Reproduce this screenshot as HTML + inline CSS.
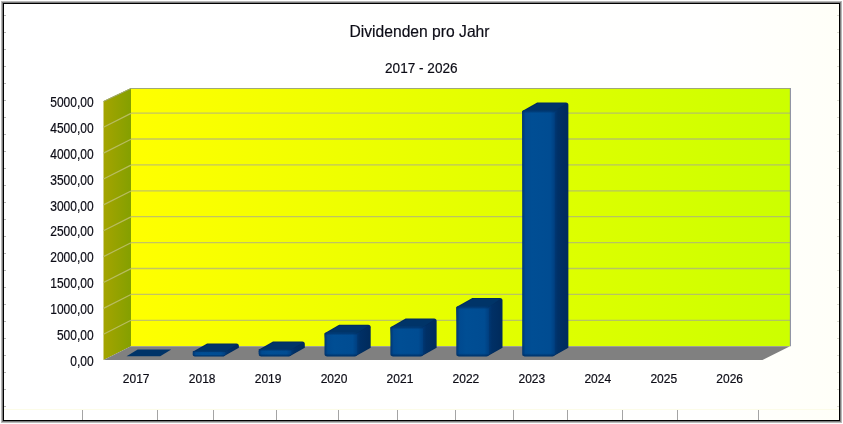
<!DOCTYPE html>
<html><head><meta charset="utf-8"><title>Dividenden pro Jahr</title>
<style>
html,body{margin:0;padding:0;background:#fff;}
body{width:843px;height:424px;overflow:hidden;font-family:"Liberation Sans",sans-serif;}
svg{display:block;}
text{font-family:"Liberation Sans",sans-serif;fill:#0c0c16;stroke:#0c0c16;stroke-width:0.18px;}
</style></head><body>
<svg width="843" height="424" viewBox="0 0 843 424">
<defs>
<linearGradient id="bg" x1="0" y1="0" x2="1" y2="0"><stop offset="0" stop-color="#ffffff"/><stop offset="0.85" stop-color="#fffffe"/><stop offset="1" stop-color="#fffff8"/></linearGradient>
<linearGradient id="wall" gradientUnits="userSpaceOnUse" x1="131.0" y1="0" x2="790.0" y2="0"><stop offset="0" stop-color="#ffff00"/><stop offset="1" stop-color="#ccff00"/></linearGradient>
<linearGradient id="side" gradientUnits="userSpaceOnUse" x1="103.5" y1="0" x2="131.0" y2="0"><stop offset="0" stop-color="#a4a400"/><stop offset="1" stop-color="#84a000"/></linearGradient>
<linearGradient id="front" x1="0" y1="0" x2="1" y2="0"><stop offset="0" stop-color="#003570"/><stop offset="0.1" stop-color="#004a90"/><stop offset="0.3" stop-color="#004e94"/><stop offset="0.86" stop-color="#004c92"/><stop offset="1" stop-color="#003f80"/></linearGradient>
<linearGradient id="bevT" x1="0" y1="0" x2="0" y2="1"><stop offset="0" stop-color="#002c5e" stop-opacity="0.9"/><stop offset="1" stop-color="#002c5e" stop-opacity="0"/></linearGradient>
<linearGradient id="bevB" x1="0" y1="0" x2="0" y2="1"><stop offset="0" stop-color="#002c5e" stop-opacity="0"/><stop offset="1" stop-color="#002c5e" stop-opacity="0.8"/></linearGradient>
<linearGradient id="sidef" x1="0" y1="0" x2="1" y2="0"><stop offset="0" stop-color="#003a78"/><stop offset="0.3" stop-color="#003066"/><stop offset="1" stop-color="#002b5c"/></linearGradient>
</defs>
<rect x="0" y="0" width="843" height="424" fill="#ffffff"/>
<rect x="1" y="1" width="841" height="422" fill="#b8b8b8"/>
<rect x="2" y="2" width="839" height="420" fill="#7c7c7c"/>
<rect x="3" y="3" width="837" height="418" fill="#000000"/>
<rect x="4" y="4" width="835" height="416" fill="url(#bg)"/>

<g stroke="#a4a4a4" stroke-width="1">
<line x1="82.5" y1="410" x2="82.5" y2="420"/>
<line x1="157.5" y1="410" x2="157.5" y2="420"/>
<line x1="213.5" y1="410" x2="213.5" y2="420"/>
<line x1="276.5" y1="410" x2="276.5" y2="420"/>
<line x1="338.5" y1="410" x2="338.5" y2="420"/>
<line x1="397.5" y1="410" x2="397.5" y2="420"/>
<line x1="455.5" y1="410" x2="455.5" y2="420"/>
<line x1="513.5" y1="410" x2="513.5" y2="420"/>
<line x1="567.5" y1="410" x2="567.5" y2="420"/>
<line x1="622.5" y1="410" x2="622.5" y2="420"/>
<line x1="677.5" y1="410" x2="677.5" y2="420"/>
<line x1="758.5" y1="410" x2="758.5" y2="420"/>
</g>
<line x1="4" y1="409.5" x2="839" y2="409.5" stroke="#fcfce8" stroke-width="1"/>
<g fill="#b8b8b8">
<rect x="4" y="15" width="2" height="1"/>
<rect x="837" y="15" width="2" height="1" fill="#dcdcd0"/>
<rect x="4" y="32" width="2" height="1"/>
<rect x="837" y="32" width="2" height="1" fill="#dcdcd0"/>
<rect x="4" y="49" width="2" height="1"/>
<rect x="837" y="49" width="2" height="1" fill="#dcdcd0"/>
<rect x="4" y="66" width="2" height="1"/>
<rect x="837" y="66" width="2" height="1" fill="#dcdcd0"/>
<rect x="4" y="83" width="2" height="1"/>
<rect x="837" y="83" width="2" height="1" fill="#dcdcd0"/>
<rect x="4" y="100" width="2" height="1"/>
<rect x="837" y="100" width="2" height="1" fill="#dcdcd0"/>
<rect x="4" y="117" width="2" height="1"/>
<rect x="837" y="117" width="2" height="1" fill="#dcdcd0"/>
<rect x="4" y="134" width="2" height="1"/>
<rect x="837" y="134" width="2" height="1" fill="#dcdcd0"/>
<rect x="4" y="151" width="2" height="1"/>
<rect x="837" y="151" width="2" height="1" fill="#dcdcd0"/>
<rect x="4" y="168" width="2" height="1"/>
<rect x="837" y="168" width="2" height="1" fill="#dcdcd0"/>
<rect x="4" y="185" width="2" height="1"/>
<rect x="837" y="185" width="2" height="1" fill="#dcdcd0"/>
<rect x="4" y="202" width="2" height="1"/>
<rect x="837" y="202" width="2" height="1" fill="#dcdcd0"/>
<rect x="4" y="219" width="2" height="1"/>
<rect x="837" y="219" width="2" height="1" fill="#dcdcd0"/>
<rect x="4" y="236" width="2" height="1"/>
<rect x="837" y="236" width="2" height="1" fill="#dcdcd0"/>
<rect x="4" y="253" width="2" height="1"/>
<rect x="837" y="253" width="2" height="1" fill="#dcdcd0"/>
<rect x="4" y="270" width="2" height="1"/>
<rect x="837" y="270" width="2" height="1" fill="#dcdcd0"/>
<rect x="4" y="287" width="2" height="1"/>
<rect x="837" y="287" width="2" height="1" fill="#dcdcd0"/>
<rect x="4" y="304" width="2" height="1"/>
<rect x="837" y="304" width="2" height="1" fill="#dcdcd0"/>
<rect x="4" y="321" width="2" height="1"/>
<rect x="837" y="321" width="2" height="1" fill="#dcdcd0"/>
<rect x="4" y="338" width="2" height="1"/>
<rect x="837" y="338" width="2" height="1" fill="#dcdcd0"/>
<rect x="4" y="355" width="2" height="1"/>
<rect x="837" y="355" width="2" height="1" fill="#dcdcd0"/>
<rect x="4" y="372" width="2" height="1"/>
<rect x="837" y="372" width="2" height="1" fill="#dcdcd0"/>
<rect x="4" y="389" width="2" height="1"/>
<rect x="837" y="389" width="2" height="1" fill="#dcdcd0"/>
<rect x="4" y="406" width="2" height="1"/>
<rect x="837" y="406" width="2" height="1" fill="#dcdcd0"/>
</g>
<text transform="translate(419.50,37.00) scale(0.979,1.03)" font-size="16" text-anchor="middle">Dividenden pro Jahr</text>
<text transform="translate(421.30,72.80) scale(0.972,1.06)" font-size="14" text-anchor="middle">2017 - 2026</text>
<rect x="131.0" y="88.0" width="659.0" height="258.20000000000005" fill="url(#wall)"/>
<polygon points="103.5,101.0 131.0,88.0 131.0,346.20000000000005 103.5,360.1" fill="url(#side)"/>
<polygon points="103.5,360.1 131.0,346.20000000000005 790.0,346.20000000000005 762.5,360.1" fill="#808080"/>
<g stroke="#a0a0a0" stroke-opacity="0.62" stroke-width="1.3" fill="none">
<line x1="131.0" y1="320.30" x2="790.0" y2="320.30"/>
<line x1="131.0" y1="294.40" x2="790.0" y2="294.40"/>
<line x1="131.0" y1="268.50" x2="790.0" y2="268.50"/>
<line x1="131.0" y1="242.60" x2="790.0" y2="242.60"/>
<line x1="131.0" y1="216.70" x2="790.0" y2="216.70"/>
<line x1="131.0" y1="190.80" x2="790.0" y2="190.80"/>
<line x1="131.0" y1="164.90" x2="790.0" y2="164.90"/>
<line x1="131.0" y1="139.00" x2="790.0" y2="139.00"/>
<line x1="131.0" y1="113.10" x2="790.0" y2="113.10"/>
</g>
<g stroke="#b8bc60" stroke-width="1.2" fill="none">
<line x1="103.5" y1="334.23" x2="131.0" y2="320.33"/>
<line x1="103.5" y1="308.36" x2="131.0" y2="294.46"/>
<line x1="103.5" y1="282.49" x2="131.0" y2="268.59"/>
<line x1="103.5" y1="256.62" x2="131.0" y2="242.72"/>
<line x1="103.5" y1="230.75" x2="131.0" y2="216.85"/>
<line x1="103.5" y1="204.88" x2="131.0" y2="190.98"/>
<line x1="103.5" y1="179.01" x2="131.0" y2="165.11"/>
<line x1="103.5" y1="153.14" x2="131.0" y2="139.24"/>
<line x1="103.5" y1="127.27" x2="131.0" y2="113.37"/>
</g>
<polyline points="103.5,101.5 131.0,88.5 790.0,88.5" fill="none" stroke="#a0a878" stroke-width="1"/>
<line x1="790.4" y1="88.0" x2="790.4" y2="346.20000000000005" stroke="#8c90a0" stroke-width="1.1"/>
<polygon points="126.5,356.2 160.2,356.2 171.3,349.5 137.7,349.5" fill="#003468"/>
<path d="M192.7,351.8 L207.1,343.5 L236.4,343.5 Q238.9,343.5 238.9,346.0 L238.9,347.8 L223.8,356.2 L194.7,356.2 Z" fill="#002c5e"/>
<path d="M224.3,352.0 L237.9,345.5 L237.9,347.4 L224.3,355.2 Z" fill="url(#sidef)"/>
<path d="M194.2,352.2 L207.6,344.5 L236.4,344.5 L224.8,352.2 Z" fill="#003468"/>
<rect x="192.7" y="351.0" width="32.6" height="5.2" rx="1.7" ry="1.7" fill="url(#front)"/>
<rect x="192.7" y="351.0" width="32.6" height="1.7" rx="1.7" fill="url(#bevT)"/>
<rect x="192.7" y="354.5" width="32.6" height="1.7" rx="1.7" fill="url(#bevB)"/>
<path d="M258.6,349.7 L273.0,341.4 L302.3,341.4 Q304.8,341.4 304.8,343.9 L304.8,347.8 L289.7,356.2 L260.6,356.2 Z" fill="#002c5e"/>
<path d="M290.2,349.9 L303.8,343.4 L303.8,347.4 L290.2,355.2 Z" fill="url(#sidef)"/>
<path d="M260.1,350.1 L273.5,342.4 L302.3,342.4 L290.7,350.1 Z" fill="#003468"/>
<rect x="258.6" y="348.9" width="32.6" height="7.3" rx="2.4" ry="2.4" fill="url(#front)"/>
<rect x="258.6" y="348.9" width="32.6" height="2.4" rx="2.4" fill="url(#bevT)"/>
<rect x="258.6" y="353.8" width="32.6" height="2.4" rx="2.4" fill="url(#bevB)"/>
<path d="M324.5,333.2 L339.1,324.8 L368.2,324.8 Q370.7,324.8 370.7,327.3 L370.7,347.8 L355.6,356.2 L326.5,356.2 Z" fill="#002c5e"/>
<path d="M356.1,333.4 L369.7,326.8 L369.7,347.4 L356.1,355.2 Z" fill="url(#sidef)"/>
<path d="M326.0,333.6 L339.6,325.8 L368.2,325.8 L356.6,333.6 Z" fill="#003468"/>
<rect x="324.5" y="332.4" width="32.6" height="23.8" rx="2.6" ry="2.6" fill="url(#front)"/>
<rect x="324.5" y="332.4" width="32.6" height="3.0" rx="2.6" fill="url(#bevT)"/>
<rect x="324.5" y="353.2" width="32.6" height="3.0" rx="2.6" fill="url(#bevB)"/>
<path d="M390.4,327.2 L405.6,318.5 L434.1,318.5 Q436.6,318.5 436.6,321.0 L436.6,347.8 L421.5,356.2 L392.4,356.2 Z" fill="#002c5e"/>
<path d="M422.0,327.4 L435.6,320.5 L435.6,347.4 L422.0,355.2 Z" fill="url(#sidef)"/>
<path d="M391.9,327.6 L406.1,319.5 L434.1,319.5 L422.5,327.6 Z" fill="#003468"/>
<rect x="390.4" y="326.4" width="32.6" height="29.8" rx="2.6" ry="2.6" fill="url(#front)"/>
<rect x="390.4" y="326.4" width="32.6" height="3.0" rx="2.6" fill="url(#bevT)"/>
<rect x="390.4" y="353.2" width="32.6" height="3.0" rx="2.6" fill="url(#bevB)"/>
<path d="M456.3,307.0 L472.3,297.9 L500.0,297.9 Q502.5,297.9 502.5,300.4 L502.5,347.8 L487.4,356.2 L458.3,356.2 Z" fill="#002c5e"/>
<path d="M487.9,307.2 L501.5,299.9 L501.5,347.4 L487.9,355.2 Z" fill="url(#sidef)"/>
<path d="M457.8,307.4 L472.8,298.9 L500.0,298.9 L488.4,307.4 Z" fill="#003468"/>
<rect x="456.3" y="306.2" width="32.6" height="50.0" rx="2.6" ry="2.6" fill="url(#front)"/>
<rect x="456.3" y="306.2" width="32.6" height="3.0" rx="2.6" fill="url(#bevT)"/>
<rect x="456.3" y="353.2" width="32.6" height="3.0" rx="2.6" fill="url(#bevB)"/>
<path d="M522.2,111.0 L537.2,102.4 L565.9,102.4 Q568.4,102.4 568.4,104.9 L568.4,347.8 L553.2,356.2 L524.2,356.2 Z" fill="#002c5e"/>
<path d="M553.8,111.2 L567.4,104.4 L567.4,347.4 L553.8,355.2 Z" fill="url(#sidef)"/>
<path d="M523.7,111.4 L537.7,103.4 L565.9,103.4 L554.2,111.4 Z" fill="#003468"/>
<rect x="522.2" y="110.2" width="32.6" height="246.0" rx="2.6" ry="2.6" fill="url(#front)"/>
<rect x="522.2" y="110.2" width="32.6" height="3.0" rx="2.6" fill="url(#bevT)"/>
<rect x="522.2" y="353.2" width="32.6" height="3.0" rx="2.6" fill="url(#bevB)"/>
<text transform="translate(93.60,365.80) scale(1.0,1.16)" font-size="12" text-anchor="end">0,00</text>
<text transform="translate(93.60,339.93) scale(1.0,1.16)" font-size="12" text-anchor="end">500,00</text>
<text transform="translate(93.60,314.06) scale(1.0,1.16)" font-size="12" text-anchor="end">1000,00</text>
<text transform="translate(93.60,288.19) scale(1.0,1.16)" font-size="12" text-anchor="end">1500,00</text>
<text transform="translate(93.60,262.32) scale(1.0,1.16)" font-size="12" text-anchor="end">2000,00</text>
<text transform="translate(93.60,236.45) scale(1.0,1.16)" font-size="12" text-anchor="end">2500,00</text>
<text transform="translate(93.60,210.58) scale(1.0,1.16)" font-size="12" text-anchor="end">3000,00</text>
<text transform="translate(93.60,184.71) scale(1.0,1.16)" font-size="12" text-anchor="end">3500,00</text>
<text transform="translate(93.60,158.84) scale(1.0,1.16)" font-size="12" text-anchor="end">4000,00</text>
<text transform="translate(93.60,132.97) scale(1.0,1.16)" font-size="12" text-anchor="end">4500,00</text>
<text transform="translate(93.60,107.10) scale(1.0,1.16)" font-size="12" text-anchor="end">5000,00</text>
<text transform="translate(136.20,382.80) scale(1.0,1.13)" font-size="12" text-anchor="middle">2017</text>
<text transform="translate(202.14,382.80) scale(1.0,1.13)" font-size="12" text-anchor="middle">2018</text>
<text transform="translate(268.08,382.80) scale(1.0,1.13)" font-size="12" text-anchor="middle">2019</text>
<text transform="translate(334.02,382.80) scale(1.0,1.13)" font-size="12" text-anchor="middle">2020</text>
<text transform="translate(399.96,382.80) scale(1.0,1.13)" font-size="12" text-anchor="middle">2021</text>
<text transform="translate(465.90,382.80) scale(1.0,1.13)" font-size="12" text-anchor="middle">2022</text>
<text transform="translate(531.84,382.80) scale(1.0,1.13)" font-size="12" text-anchor="middle">2023</text>
<text transform="translate(597.78,382.80) scale(1.0,1.13)" font-size="12" text-anchor="middle">2024</text>
<text transform="translate(663.72,382.80) scale(1.0,1.13)" font-size="12" text-anchor="middle">2025</text>
<text transform="translate(729.66,382.80) scale(1.0,1.13)" font-size="12" text-anchor="middle">2026</text>
</svg></body></html>
